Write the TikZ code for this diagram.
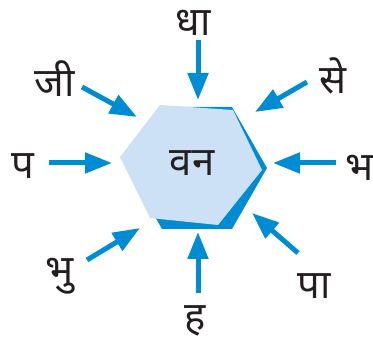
\documentclass[tikz,border=0pt]{standalone}
\usepackage{fontspec}
\newfontfamily\devfont[Script=Devanagari]{Noto Sans}
\usetikzlibrary{arrows.meta}
\definecolor{arrblue}{RGB}{0,140,210}
\definecolor{lightblue}{RGB}{204,225,245}
\definecolor{txt}{RGB}{35,31,32}
\begin{document}
\begin{tikzpicture}[x=1pt,y=-1pt,
  lbl/.style={font=\devfont\fontsize{40}{44}\selectfont, text=txt, inner sep=0pt},
  arr/.style={draw=arrblue, line width=5pt, -{Triangle[length=27pt,width=20pt]}}]
\useasboundingbox (0,0) rectangle (373,342);
% shadow hexagon
\fill[arrblue] (267,168) -- (232,107) -- (162,107) -- (127,168) -- (162,229) -- (232,229) -- cycle;
% light hexagon
\fill[lightblue] (160,105) -- (233,110) -- (262,170) -- (218,225) -- (150,218) -- (120,157) -- cycle;
\node[lbl] (c) at (192,163) {वन};
% labels
\node[lbl] (t) at (193,23) {धा};
\node[lbl] (tl) at (55,79) {जी};
\node[lbl] (tr) at (333,76) {से};
\node[lbl] (l) at (23,166) {प};
\node[lbl] (r) at (360,168) {भ};
\node[lbl] (bl) at (60,276) {भु};
\node[lbl] (b) at (195,321) {ह};
\node[lbl] (br) at (314,286) {पा};
% arrow endpoints
\coordinate (t1) at (198,40);  \coordinate (t2) at (198,100);
\coordinate (tl1) at (82,87);  \coordinate (tl2) at (137,117);
\coordinate (tr1) at (307,82); \coordinate (tr2) at (255,112);
\coordinate (l1) at (49,163);  \coordinate (l2) at (112,163);
\coordinate (r1) at (336,163); \coordinate (r2) at (273,163);
\coordinate (bl1) at (87,260); \coordinate (bl2) at (140,228);
\coordinate (b1) at (198,293); \coordinate (b2) at (198,232);
\coordinate (br1) at (298,253); \coordinate (br2) at (252,213);
\foreach \a in {t,tl,tr,l,r,bl,b,br} \draw[arr] (\a1) -- (\a2);
\end{tikzpicture}
\end{document}
